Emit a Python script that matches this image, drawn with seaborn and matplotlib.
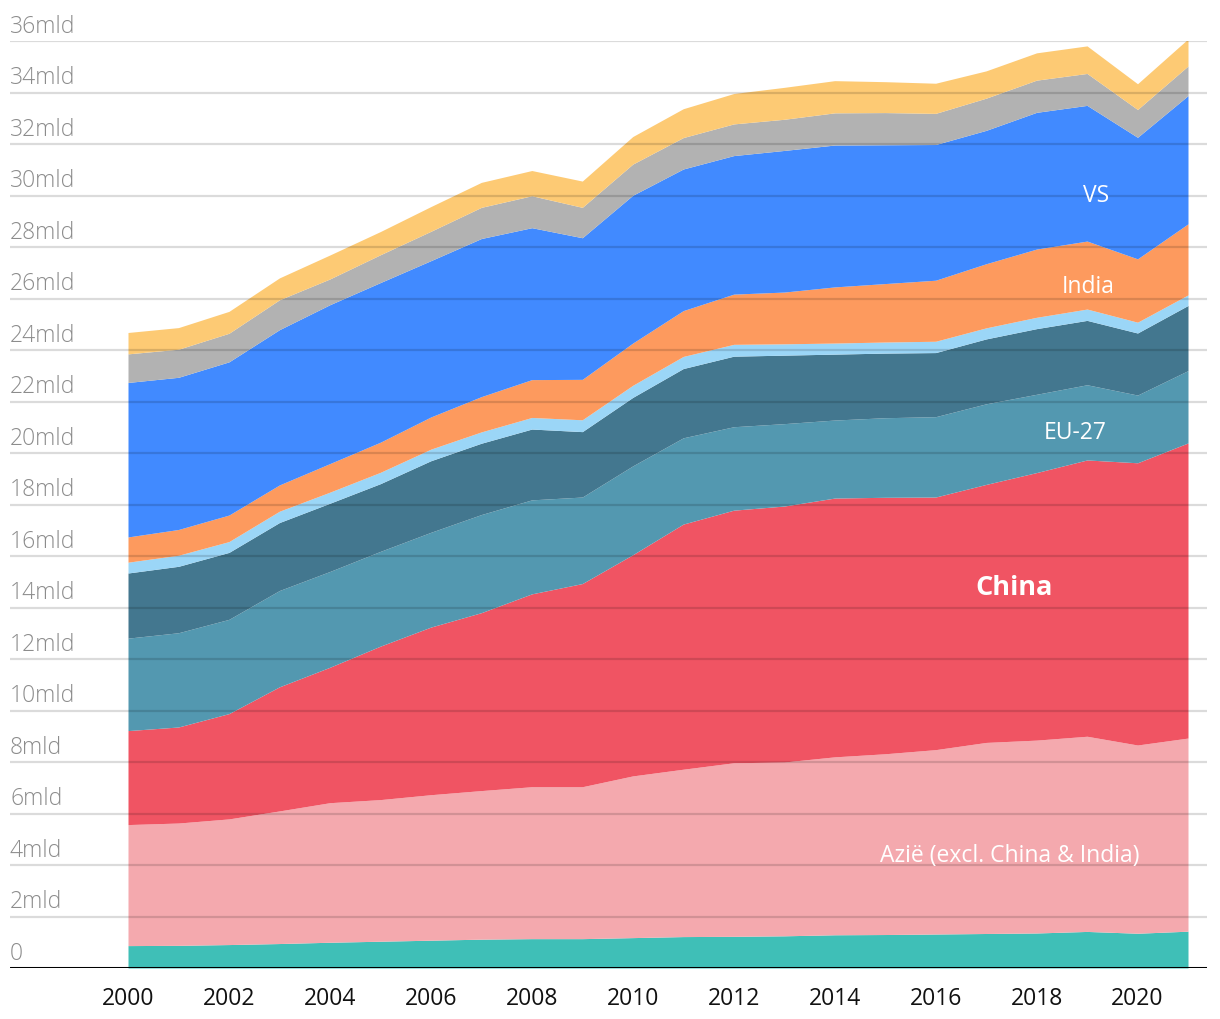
import matplotlib
matplotlib.use("Agg")
import matplotlib.pyplot as plt
import matplotlib.transforms as mtransforms
import seaborn as sns
import numpy as np

years = list(range(2000, 2022))

afrika = [0.87, 0.88, 0.91, 0.95, 1.00, 1.04, 1.08, 1.12, 1.14, 1.14, 1.18,
          1.22, 1.23, 1.25, 1.29, 1.30, 1.32, 1.34, 1.36, 1.42, 1.35, 1.43]
azie = [4.70, 4.75, 4.88, 5.15, 5.42, 5.50, 5.65, 5.77, 5.90, 5.90, 6.28,
        6.50, 6.74, 6.75, 6.91, 7.02, 7.16, 7.42, 7.49, 7.58, 7.31, 7.50]
china = [3.65, 3.73, 4.09, 4.82, 5.26, 5.96, 6.51, 6.91, 7.49, 7.89, 8.59,
         9.52, 9.81, 9.94, 10.05, 9.96, 9.81, 10.02, 10.39, 10.73, 10.96, 11.46]
eu27 = [3.59, 3.66, 3.66, 3.74, 3.72, 3.68, 3.68, 3.81, 3.65, 3.36, 3.45,
        3.35, 3.24, 3.20, 3.03, 3.09, 3.12, 3.13, 3.04, 2.92, 2.63, 2.81]
europa_overig = [2.53, 2.58, 2.60, 2.64, 2.65, 2.63, 2.78, 2.77, 2.75, 2.54, 2.66,
                 2.69, 2.74, 2.66, 2.56, 2.51, 2.49, 2.52, 2.55, 2.50, 2.41, 2.53]
oceanie = [0.42, 0.43, 0.42, 0.44, 0.43, 0.44, 0.45, 0.44, 0.45, 0.46, 0.47,
           0.47, 0.46, 0.44, 0.43, 0.43, 0.44, 0.43, 0.44, 0.44, 0.42, 0.41]
india = [0.98, 1.00, 1.03, 1.02, 1.11, 1.17, 1.25, 1.37, 1.47, 1.57, 1.64,
         1.78, 1.95, 2.01, 2.18, 2.27, 2.37, 2.49, 2.65, 2.64, 2.46, 2.76]
vs = [6.00, 5.91, 5.95, 6.03, 6.17, 6.20, 6.07, 6.14, 5.90, 5.50, 5.74,
      5.50, 5.38, 5.50, 5.51, 5.39, 5.27, 5.18, 5.31, 5.27, 4.72, 4.98]
noord_amerika_overig = [1.11, 1.09, 1.11, 1.16, 1.00, 1.08, 1.14, 1.21, 1.24, 1.18, 1.21,
                        1.22, 1.23, 1.21, 1.25, 1.25, 1.21, 1.25, 1.25, 1.24, 1.08, 1.15]
zuid_amerika = [0.83, 0.84, 0.85, 0.85, 0.93, 0.90, 0.96, 0.97, 0.98, 1.02, 1.07,
                1.12, 1.18, 1.24, 1.25, 1.20, 1.17, 1.06, 1.06, 1.07, 1.00, 1.05]

series = [afrika, azie, china, eu27, europa_overig, oceanie, india, vs,
          noord_amerika_overig, zuid_amerika]
colors = ["#3fbfb7", "#f4a9ae", "#f05463", "#5398b0", "#43778f", "#9bd6f7",
          "#fd9a5e", "#418aff", "#b2b2b2", "#fdca74"]

ytick_vals = list(range(0, 37, 2))
ytick_labels = ["0"] + [f"{v}mld" for v in ytick_vals[1:]]
xtick_vals = list(range(2000, 2021, 2))

sns.set_theme(style="white")
plt.rcParams["font.family"] = ["Open Sans", "DejaVu Sans"]

fig = plt.figure(figsize=(12.2, 10.2), dpi=100)
ax = fig.add_axes([10 / 1220, 1 - 969 / 1020, (1207 - 10) / 1220, (969 - 42) / 1020])

palette = sns.color_palette(colors)
ax.stackplot(years, *series, colors=palette, linewidth=0, zorder=1)

px_per_year = (1188 - 128) / 21
ax.set_xlim(2000 - (128 - 10) / px_per_year, 2021 + (1207 - 1188) / px_per_year)
ax.set_ylim(0, 36)

# gridlines on top (visible through fills)
for v in ytick_vals[1:]:
    ax.axhline(v, color="black", alpha=0.14, linewidth=1.6, zorder=3)
ax.axhline(0, color="black", linewidth=2.2, zorder=4)

for s in ax.spines.values():
    s.set_visible(False)

ax.set_yticks([])
ax.set_xticks(xtick_vals)
ax.set_xticklabels([str(x) for x in xtick_vals], fontsize=16.5, color="#111111")
ax.tick_params(axis="x", length=0, pad=13)

trans = mtransforms.blended_transform_factory(ax.transAxes, ax.transData)
for v, lab in zip(ytick_vals, ytick_labels):
    ax.annotate(lab, xy=(0, v), xycoords=trans, xytext=(0, 2.5),
                textcoords="offset points", ha="left", va="bottom",
                fontsize=16.5, fontweight="light", color="#8c8c8c",
                annotation_clip=False, zorder=5)

lab_kw = dict(color="white", ha="center", va="center", zorder=5)
ax.text(2019.18, 30.0, "VS", fontsize=16.5, **lab_kw)
ax.text(2019.02, 26.5, "India", fontsize=16.5, **lab_kw)
ax.text(2018.76, 20.8, "EU-27", fontsize=16.5, **lab_kw)
ax.text(2017.55, 14.8, "China", fontsize=19.5, fontweight="bold", **lab_kw)
ax.text(2017.47, 4.4, "Azië (excl. China & India)", fontsize=16.5, **lab_kw)

fig.savefig("out.png", dpi=100)
